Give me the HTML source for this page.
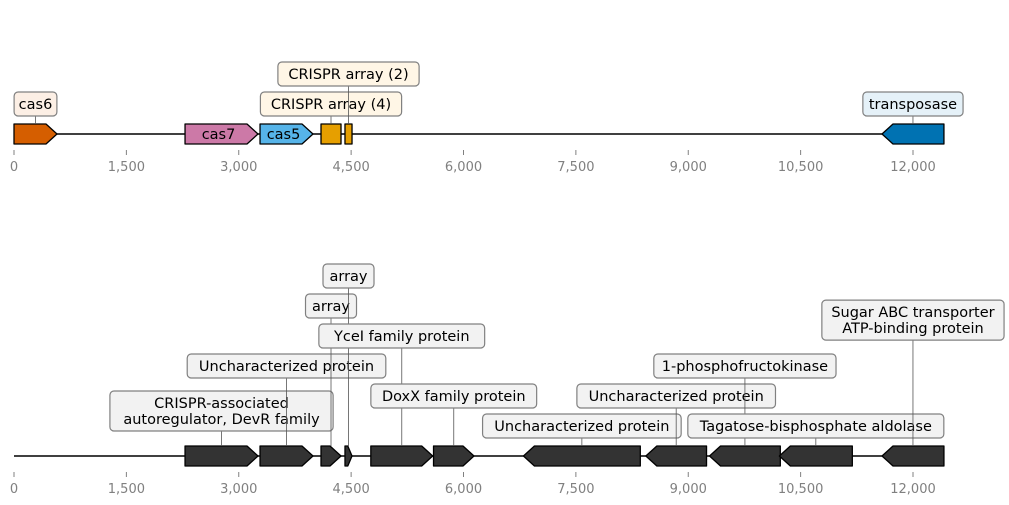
<!DOCTYPE html>
<html><head><meta charset="utf-8"><style>
body{margin:0;background:#fff;}
svg{display:block;font-family:"DejaVu Sans","Liberation Sans",sans-serif;}
</style></head><body>
<svg id="c" width="1009" height="505"></svg>
<script>
const ticks=[0,1500,3000,4500,6000,7500,9000,10500,12000];
const tickLabels=["0","1,500","3,000","4,500","6,000","7,500","9,000","10,500","12,000"];
const seqLen=12413;
// top panel
const topStarts=[0,2283,3284,4098,4418,11586];
const topEnds=[574,3257,3991,4365,4512,12413];
const topStrands=[1,1,1,0,0,-1];
const topLabels=["cas6","cas7","cas5","CRISPR array (4)","CRISPR array (2)","transposase"];
const topColors=["#d55e00","#cc79a7","#56b4e9","#e69f00","#e69f00","#0072b2"];
const topInside=[false,true,true,false,false,false];
const topLevel=[1,0,0,1,2,1];
// bottom panel
const botStarts=[2283,3284,4098,4418,4763,5600,6800,8434,9284,10216,11586];
const botEnds=[3257,3991,4365,4512,5589,6140,8360,9244,10229,11190,12413];
const botStrands=[1,1,1,1,1,1,-1,-1,-1,-1,-1];
const botLabels=[["CRISPR-associated","autoregulator, DevR family"],["Uncharacterized protein"],["array"],["array"],["YceI family protein"],["DoxX family protein"],["Uncharacterized protein"],["Uncharacterized protein"],["1-phosphofructokinase"],["Tagatose-bisphosphate aldolase"],["Sugar ABC transporter","ATP-binding protein"]];
const botLevel=[0.5,2,4,5,3,1,0,1,2,0,3.53];

const svg=document.getElementById('c');
const NS="http://www.w3.org/2000/svg";
const X=v=>14+v*(899/12000);
function el(t,a,p){const e=document.createElementNS(NS,t);for(const k in a)e.setAttribute(k,a[k]);(p||svg).appendChild(e);return e;}

function axis(y,name){
  const g=el('g',{});
  
  
  ticks.forEach((t,i)=>{
    el('line',{x1:X(t),x2:X(t),y1:y+16,y2:y+21,stroke:'#808080','stroke-width':1},g);
    const tx=el('text',{x:X(t),y:y+37,'text-anchor':'middle','font-size':13,fill:'#808080'},g);
    tx.textContent=tickLabels[i];
  });
}
function gene(s,e,strand,y,h,fill,name){
  const x1=X(s),x2=X(e),hl=Math.min(11,(x2-x1)*0.6);
  let pts;
  if(strand===1)pts=[[x1,y-h],[x2-hl,y-h],[x2,y],[x2-hl,y+h],[x1,y+h]];
  else if(strand===-1)pts=[[x1+hl,y-h],[x2,y-h],[x2,y+h],[x1+hl,y+h],[x1,y]];
  else pts=[[x1,y-h],[x2,y-h],[x2,y+h],[x1,y+h]];
  const p=el('polygon',{points:pts.map(q=>q.join(',')).join(' '),fill:fill,stroke:'#000','stroke-width':1.3,'stroke-linejoin':'round'});
  
  
}
function label(cx,lineY,boxCy,lines,fill,name){
  el('line',{x1:cx,x2:cx,y1:lineY,y2:boxCy,stroke:'#555','stroke-width':0.8});
  const g=el('g',{});
  
  
  const lh=16;
  const w=Math.max(...lines.map(l=>l.length))*8.2+10;
  const h=lines.length*lh+8;
  el('rect',{x:cx-w/2,y:boxCy-h/2,width:w,height:h,rx:4,fill:fill,stroke:'#808080','stroke-width':1.2},g);
  lines.forEach((l,i)=>{
    const t=el('text',{x:cx,y:boxCy-(lines.length-1)*lh/2+i*lh+5,'text-anchor':'middle','font-size':14.5,fill:'#000'},g);
    t.textContent=l;
  });
}
// Top
const yT=134;
el('line',{x1:X(0),x2:X(seqLen),y1:yT,y2:yT,stroke:'#000','stroke-width':1.5});
const lblFill=["#fcefe5","#fff","#fff","#fff6e6","#fff6e6","#e5f1f8"];
topStarts.forEach((s,i)=>{
  gene(s,topEnds[i],topStrands[i],yT,10,topColors[i],'gene-'+topLabels[i].replace(/[^a-z0-9]+/gi,'-').toLowerCase());
  const cx=X((s+topEnds[i])/2);
  if(topInside[i]){
    const t=el('text',{x:cx-3,y:yT+5,'text-anchor':'middle','font-size':14.5,fill:'#000'});
    t.textContent=topLabels[i];
    
    
  }else{
    label(cx,yT-10,yT-30*topLevel[i],[topLabels[i]],lblFill[i],'label-'+topLabels[i].replace(/[^a-z0-9]+/gi,'-').toLowerCase());
  }
});
axis(yT,'top-x-axis');
// Bottom
const yB=456;
el('line',{x1:X(0),x2:X(seqLen),y1:yB,y2:yB,stroke:'#000','stroke-width':1.5});
botStarts.forEach((s,i)=>{
  gene(s,botEnds[i],botStrands[i],yB,10,'#333333','gene-'+(i+1));
});
botStarts.forEach((s,i)=>{
  const cx=X((s+botEnds[i])/2);
  label(cx,yB-10,yB-30-30*botLevel[i],botLabels[i],'#f2f2f2','label-'+botLabels[i][0].replace(/[^a-z0-9]+/gi,'-').toLowerCase()+'-'+(i+1));
});
axis(yB,'bottom-x-axis');
</script>
</body></html>
